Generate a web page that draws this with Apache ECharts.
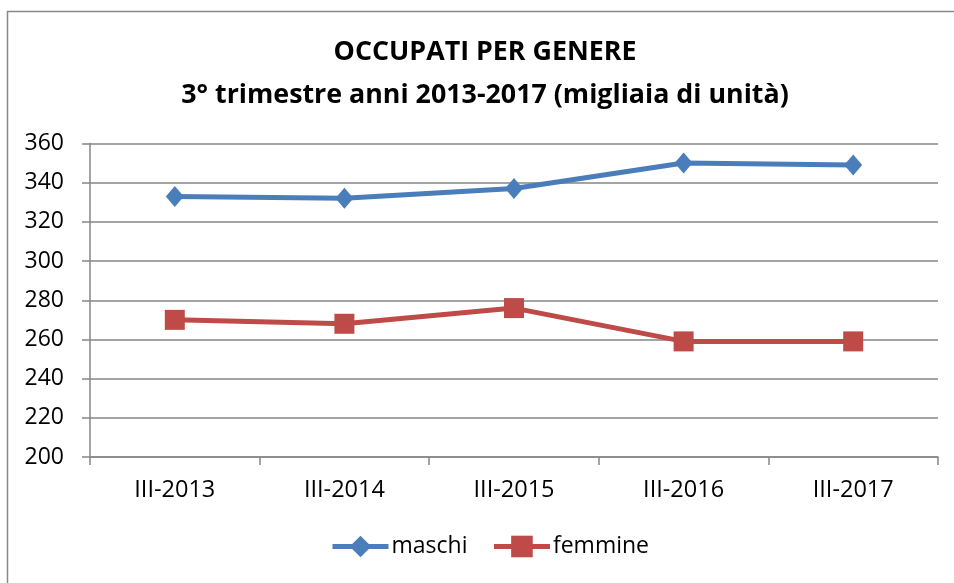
<!DOCTYPE html>
<html>
<head>
<meta charset="utf-8">
<script src="https://cdn.jsdelivr.net/npm/echarts@6/dist/echarts.min.js"></script>
<style>
html,body{margin:0;padding:0;background:#fff;}
#c{width:954px;height:583px;}
</style>
</head>
<body>
<div id="c"></div>
<script>
var categories = ['III-2013', 'III-2014', 'III-2015', 'III-2016', 'III-2017'];
var maschi = [333, 332, 337, 350, 349];
var femmine = [270, 268, 276, 259, 259];
var yTicks = { min: 200, max: 360, interval: 20 };
var titleLines = ['OCCUPATI PER GENERE', '3° trimestre anni 2013-2017 (migliaia di unità)'];

var FONT = 'Open Sans';
var chart = echarts.init(document.getElementById('c'), null, { renderer: 'canvas' });
chart.setOption({
  animation: false,
  backgroundColor: '#ffffff',
  graphic: [{
    type: 'rect',
    shape: { x: 7.5, y: 11.5, width: 1200, height: 1000 },
    style: { fill: 'none', stroke: '#888888', lineWidth: 1.5 },
    silent: true, z: -1
  }],
  title: {
    text: titleLines.join('\n'),
    left: 485,
    textAlign: 'center',
    top: 31,
    padding: 0,
    textStyle: { fontFamily: FONT, fontWeight: 'bold', fontSize: 26.8, lineHeight: 43, color: '#000' }
  },
  grid: { left: 90, right: 16, top: 143.5, bottom: 126, containLabel: false },
  legend: {
    left: 330,
    top: 535,
    padding: 0,
    itemWidth: 56,
    itemHeight: 27,
    itemGap: 24,
    lineStyle: { width: 5 },
    textStyle: { fontFamily: FONT, fontSize: 23, color: '#000', padding: [0, 0, 0, -2] },
    data: ['maschi', 'femmine']
  },
  xAxis: {
    type: 'category',
    data: categories,
    boundaryGap: true,
    axisLine: { lineStyle: { color: '#868686', width: 1.5 } },
    axisTick: { show: true, length: 8, inside: false, alignWithLabel: false, lineStyle: { color: '#868686', width: 1.5 } },
    axisLabel: { fontFamily: FONT, fontSize: 23.5, color: '#000', margin: 21 }
  },
  yAxis: {
    type: 'value',
    min: yTicks.min, max: yTicks.max, interval: yTicks.interval,
    axisLine: { show: true, lineStyle: { color: '#868686', width: 1.5 } },
    axisTick: { show: true, length: 8, lineStyle: { color: '#868686', width: 1.5 } },
    axisLabel: { fontFamily: FONT, fontSize: 23, color: '#000', margin: 26 },
    splitLine: { show: true, lineStyle: { color: '#868686', width: 1.5 } }
  },
  series: [{
    name: 'maschi',
    type: 'line',
    data: maschi,
    symbol: 'diamond',
    symbolSize: [18, 21],
    lineStyle: { color: '#4A7EBB', width: 5 },
    itemStyle: { color: '#4A7EBB' }
  }, {
    name: 'femmine',
    type: 'line',
    data: femmine,
    symbol: 'rect',
    symbolSize: 20,
    lineStyle: { color: '#BE4B48', width: 5 },
    itemStyle: { color: '#BE4B48' }
  }]
});
</script>
</body>
</html>
